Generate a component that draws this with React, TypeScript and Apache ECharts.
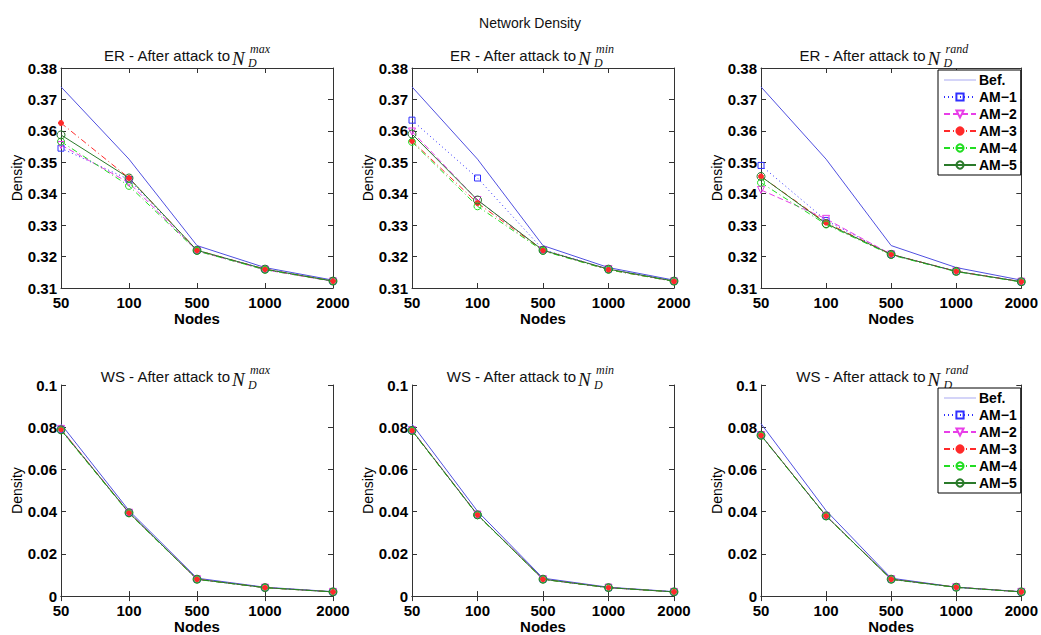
import React, { useEffect, useRef } from "react";
import * as echarts from "echarts";

const categories = ["50", "100", "500", "1000", "2000"];
const seriesNames = ["Bef.", "AM−1", "AM−2", "AM−3", "AM−4", "AM−5"];

// ER panels
const erMaxBef = [0.374, 0.351, 0.3235, 0.3165, 0.3125];
const erMaxAM1 = [0.3545, 0.3445, 0.322, 0.316, 0.3122];
const erMaxAM2 = [0.3555, 0.3435, 0.3218, 0.3158, 0.3121];
const erMaxAM3 = [0.3625, 0.345, 0.322, 0.316, 0.3122];
const erMaxAM4 = [0.3566, 0.3425, 0.3218, 0.3158, 0.3122];
const erMaxAM5 = [0.3587, 0.345, 0.322, 0.316, 0.3122];

const erMinBef = [0.374, 0.351, 0.3235, 0.3165, 0.3125];
const erMinAM1 = [0.3634, 0.345, 0.3222, 0.316, 0.3122];
const erMinAM2 = [0.3598, 0.338, 0.322, 0.316, 0.3121];
const erMinAM3 = [0.3568, 0.337, 0.322, 0.3158, 0.3121];
const erMinAM4 = [0.3565, 0.336, 0.3218, 0.3158, 0.3121];
const erMinAM5 = [0.359, 0.338, 0.322, 0.316, 0.3122];

const erRandBef = [0.374, 0.351, 0.3235, 0.3165, 0.3125];
const erRandAM1 = [0.349, 0.3315, 0.3207, 0.3153, 0.312];
const erRandAM2 = [0.3412, 0.332, 0.3207, 0.3153, 0.312];
const erRandAM3 = [0.3455, 0.3308, 0.3207, 0.3153, 0.312];
const erRandAM4 = [0.3435, 0.3302, 0.3205, 0.3152, 0.3119];
const erRandAM5 = [0.3455, 0.3305, 0.3207, 0.3153, 0.312];

// WS panels
const wsMaxBef = [0.0815, 0.0405, 0.0085, 0.0042, 0.0021];
const wsMaxAM1 = [0.079, 0.0395, 0.008, 0.004, 0.002];
const wsMaxAM2 = [0.0792, 0.0395, 0.008, 0.004, 0.002];
const wsMaxAM3 = [0.079, 0.0395, 0.008, 0.004, 0.002];
const wsMaxAM4 = [0.0785, 0.0392, 0.0079, 0.004, 0.002];
const wsMaxAM5 = [0.0788, 0.0395, 0.008, 0.004, 0.002];

const wsMinBef = [0.0815, 0.0402, 0.0085, 0.0042, 0.0021];
const wsMinAM1 = [0.0785, 0.0385, 0.008, 0.004, 0.002];
const wsMinAM2 = [0.0787, 0.0386, 0.008, 0.004, 0.002];
const wsMinAM3 = [0.0785, 0.0385, 0.008, 0.004, 0.002];
const wsMinAM4 = [0.0782, 0.0383, 0.0079, 0.004, 0.002];
const wsMinAM5 = [0.0785, 0.0385, 0.008, 0.004, 0.002];

const wsRandBef = [0.0817, 0.0405, 0.0085, 0.0042, 0.0021];
const wsRandAM1 = [0.0762, 0.038, 0.008, 0.0042, 0.002];
const wsRandAM2 = [0.0763, 0.038, 0.008, 0.0042, 0.002];
const wsRandAM3 = [0.0762, 0.038, 0.008, 0.0042, 0.002];
const wsRandAM4 = [0.076, 0.0378, 0.0079, 0.0041, 0.002];
const wsRandAM5 = [0.0762, 0.038, 0.008, 0.0042, 0.002];

const panelData = [
  [erMaxBef, erMaxAM1, erMaxAM2, erMaxAM3, erMaxAM4, erMaxAM5],
  [erMinBef, erMinAM1, erMinAM2, erMinAM3, erMinAM4, erMinAM5],
  [erRandBef, erRandAM1, erRandAM2, erRandAM3, erRandAM4, erRandAM5],
  [wsMaxBef, wsMaxAM1, wsMaxAM2, wsMaxAM3, wsMaxAM4, wsMaxAM5],
  [wsMinBef, wsMinAM1, wsMinAM2, wsMinAM3, wsMinAM4, wsMinAM5],
  [wsRandBef, wsRandAM1, wsRandAM2, wsRandAM3, wsRandAM4, wsRandAM5],
];

const panelPrefix = ["ER - After attack to", "ER - After attack to", "ER - After attack to", "WS - After attack to", "WS - After attack to", "WS - After attack to"];
const panelSup = ["max", "min", "rand", "max", "min", "rand"];
const mainTitle = "Network Density";

const grids = [
  { left: 61, top: 68, width: 272, height: 220 },
  { left: 412, top: 68, width: 262, height: 220 },
  { left: 761, top: 68, width: 263, height: 220 },
  { left: 61, top: 385, width: 272, height: 218 },
  { left: 412, top: 385, width: 262, height: 218 },
  { left: 761, top: 385, width: 263, height: 218 },
];

const styles = [
  { color: "#5050e0", type: "solid", symbol: "none", size: 0, fill: "transparent", rotate: 0 },
  { color: "#2f2fff", type: [1, 3], symbol: "rect", size: 6, fill: "rgba(0,0,0,0)", rotate: 0 },
  { color: "#e83ee8", type: [6, 3], symbol: "triangle", size: 7, fill: "rgba(0,0,0,0)", rotate: 180 },
  { color: "#ff2a2a", type: [6, 3, 1, 3], symbol: "circle", size: 5, fill: "#ff2a2a", rotate: 0 },
  { color: "#22dd22", type: [6, 3, 1, 3], symbol: "circle", size: 7, fill: "rgba(0,0,0,0)", rotate: 0 },
  { color: "#2a7a2a", type: "solid", symbol: "circle", size: 8, fill: "rgba(0,0,0,0)", rotate: 0 },
];

const FONT = '"Liberation Sans", Arial, sans-serif';

export default function App() {
  const ref = useRef<HTMLDivElement>(null);
  useEffect(() => {
    if (!ref.current) return;
    const chart = echarts.init(ref.current, undefined, { renderer: "svg" });
    const xAxis: any[] = [];
    const yAxis: any[] = [];
    const series: any[] = [];
    const graphic: any[] = [];
    const axisColor = "#333";
    grids.forEach((g, i) => {
      const isER = i < 3;
      const yMin = isER ? 0.31 : 0;
      const yMax = isER ? 0.38 : 0.1;
      const yInt = isER ? 0.01 : 0.02;
      xAxis.push({
        type: "category",
        gridIndex: i,
        data: categories,
        boundaryGap: false,
        position: "bottom",
        axisLine: { lineStyle: { color: axisColor, width: 1 } },
        axisTick: { inside: true, length: 5, lineStyle: { color: axisColor } },
        axisLabel: { fontFamily: FONT, fontWeight: "bold", fontSize: 15, color: "#000", margin: 7 },
        splitLine: { show: false },
        name: "Nodes",
        nameLocation: "middle",
        nameGap: 20,
        nameTextStyle: { fontFamily: FONT, fontWeight: "bold", fontSize: 15, color: "#000" },
      });
      xAxis.push({
        type: "category",
        gridIndex: i,
        data: categories,
        boundaryGap: false,
        position: "top",
        axisLine: { lineStyle: { color: axisColor, width: 1 } },
        axisTick: { inside: true, length: 5, lineStyle: { color: axisColor } },
        axisLabel: { show: false },
        splitLine: { show: false },
      });
      yAxis.push({
        type: "value",
        gridIndex: i,
        min: yMin,
        max: yMax,
        interval: yInt,
        position: "left",
        axisLine: { show: true, lineStyle: { color: axisColor, width: 1 } },
        axisTick: { show: true, inside: true, length: 5, lineStyle: { color: axisColor } },
        axisLabel: {
          fontFamily: FONT,
          fontWeight: "bold",
          fontSize: 15,
          color: "#000",
          margin: 4,
          formatter: (v: number) => String(Math.round(v * 1000) / 1000),
        },
        splitLine: { show: false },
        name: "Density",
        nameLocation: "middle",
        nameGap: 35,
        nameTextStyle: { fontFamily: FONT, fontSize: 14, color: "#000" },
      });
      yAxis.push({
        type: "value",
        gridIndex: i,
        min: yMin,
        max: yMax,
        interval: yInt,
        position: "right",
        axisLine: { show: true, lineStyle: { color: axisColor, width: 1 } },
        axisTick: { show: true, inside: true, length: 5, lineStyle: { color: axisColor } },
        axisLabel: { show: false },
        splitLine: { show: false },
      });
      panelData[i].forEach((vals, k) => {
        const s = styles[k];
        series.push({
          type: "line",
          name: seriesNames[k],
          xAxisIndex: 2 * i,
          yAxisIndex: 2 * i,
          data: vals,
          symbol: s.symbol,
          symbolSize: s.size,
          symbolRotate: s.rotate,
          showSymbol: s.symbol !== "none",
          lineStyle: { color: s.color, width: 1, type: s.type as any },
          itemStyle: { color: s.fill, borderColor: s.color, borderWidth: 1 },
          color: s.color,
          emphasis: { disabled: true },
        });
      });
      const cx = g.left + g.width / 2;
      const anchor = cx + 35;
      const ty = g.top - (i < 3 ? 13 : 8.5);
      graphic.push(
        {
          type: "text",
          x: anchor - 2,
          y: ty,
          style: { text: panelPrefix[i], font: `15px ${FONT}`, align: "right", verticalAlign: "middle", fill: "#111" },
        },
        {
          type: "text",
          x: anchor,
          y: ty + 3,
          style: { text: "N", font: 'italic 19px "Liberation Serif", serif', align: "left", verticalAlign: "middle", fill: "#111" },
        },
        {
          type: "text",
          x: anchor + 18,
          y: ty - 6.5,
          style: { text: panelSup[i], font: 'italic 12px "Liberation Serif", serif', align: "left", verticalAlign: "middle", fill: "#111" },
        },
        {
          type: "text",
          x: anchor + 16,
          y: ty + 8,
          style: { text: "D", font: 'italic 12px "Liberation Serif", serif', align: "left", verticalAlign: "middle", fill: "#111" },
        }
      );
    });
    graphic.push({
      type: "text",
      x: 530,
      y: 23,
      style: { text: mainTitle, font: `14px ${FONT}`, align: "center", verticalAlign: "middle", fill: "#111" },
    });

    const legendData = seriesNames.map((n, k) =>
      k === 0
        ? { name: n, icon: "path://M0,0 L64,0 L64,1 L0,1 Z", itemStyle: { color: styles[0].color, borderWidth: 0 } }
        : { name: n }
    );

    const legendBase = {
      data: legendData,
      orient: "vertical",
      left: 938,
      itemWidth: 32,
      itemHeight: 9,
      itemGap: 3,
      padding: [3, 4, 3, 5],
      borderColor: "#000",
      borderWidth: 1,
      backgroundColor: "#fff",
      selectedMode: false,
      textStyle: { fontFamily: FONT, fontWeight: "bold", fontSize: 14, color: "#000", padding: [0, 0, 0, -2] },
    };

    chart.setOption({
      animation: false,
      backgroundColor: "#fff",
      grid: grids.map((g) => ({ ...g, show: false })),
      xAxis,
      yAxis,
      series,
      graphic,
      legend: [
        { ...legendBase, top: 70 },
        { ...legendBase, top: 388 },
      ],
    });
    return () => chart.dispose();
  }, []);
  return <div ref={ref} style={{ position: "fixed", left: 0, top: 0, width: 1041, height: 635 }} />;
}
